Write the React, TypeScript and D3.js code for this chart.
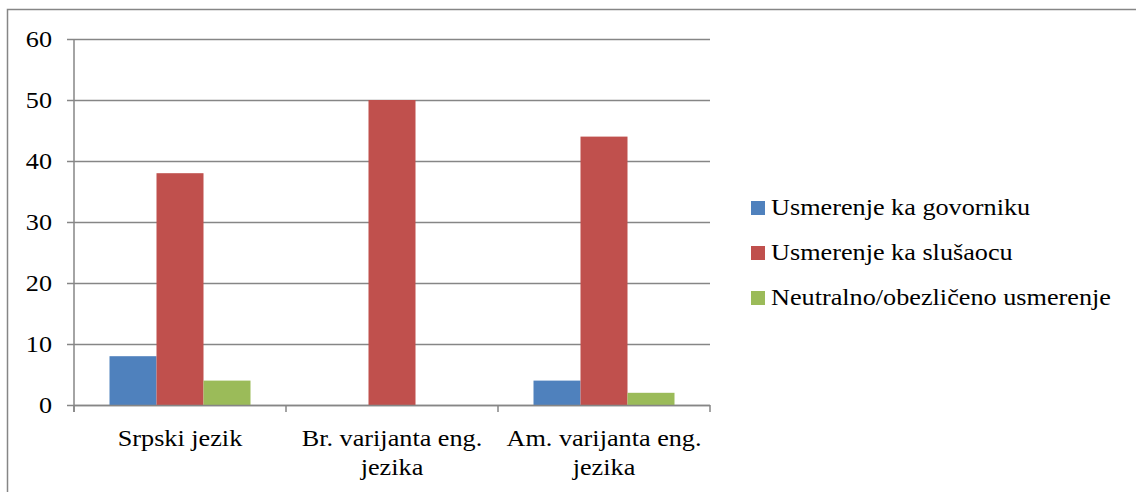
import React from "react";
import * as d3 from "d3";

const categories = [["Srpski jezik"], ["Br. varijanta eng.", "jezika"], ["Am. varijanta eng.", "jezika"]];
const seriesNames = ["Usmerenje ka govorniku", "Usmerenje ka slušaocu", "Neutralno/obezličeno usmerenje"];
const govorniku = [8, 0, 4];
const slusaocu = [38, 50, 44];
const neutralno = [4, 0, 2];
const yTicks = [0, 10, 20, 30, 40, 50, 60];
const colors = ["#4F81BD", "#C0504D", "#9BBB59"];

const SX = 1.14;

function T({ x, y, anchor = "start", children }: { x: number; y: number; anchor?: string; children: React.ReactNode }) {
  return (
    <text className="lbl" transform={`translate(${x},${y}) scale(${SX},1)`} textAnchor={anchor}>
      {children}
    </text>
  );
}

export default function App() {
  const W = 1136, H = 492;
  const left = 74, right = 710, top = 39, bottom = 405;
  const series = [govorniku, slusaocu, neutralno];
  const x = d3.scaleBand<number>().domain([0, 1, 2]).range([left, right]).paddingInner(0).paddingOuter(0);
  const y = d3.scaleLinear().domain([0, 60]).range([bottom, top]);
  const bw = x.bandwidth();
  const barW = 47;
  const groupOff = (bw - barW * 3) / 2;
  const grid = "#868686";
  return (
    <svg width={W} height={H} style={{ position: "absolute", left: 0, top: 0 }}>
      <style>{`.lbl { font-family: "Liberation Serif", "Times New Roman", serif; font-size: 23px; fill: #000; }`}</style>
      <rect x={0} y={0} width={W} height={H} fill="#fff" />
      <rect x={7.5} y={9.5} width={W + 20} height={H + 20} fill="none" stroke="#868686" strokeWidth={1.5} />
      {yTicks.map((t) => (
        <g key={t}>
          <line x1={67} x2={right} y1={Math.round(y(t)) + 0.5} y2={Math.round(y(t)) + 0.5} stroke={grid} strokeWidth={1.5} />
          <T x={52} y={y(t) + 8} anchor="end">{t}</T>
        </g>
      ))}
      {series.map((vals, si) =>
        vals.map((v, ci) =>
          v > 0 ? (
            <rect key={si + "-" + ci} x={(x(ci) as number) + groupOff + si * barW} y={y(v)} width={barW} height={y(0) - y(v)} fill={colors[si]} />
          ) : null
        )
      )}
      <line x1={left} x2={left} y1={top} y2={bottom + 7} stroke={grid} strokeWidth={1.5} />
      <line x1={left} x2={right} y1={bottom + 0.5} y2={bottom + 0.5} stroke={grid} strokeWidth={1.5} />
      {[0, 1, 2, 3].map((i) => {
        const xx = i < 3 ? (x(i) as number) : right;
        return <line key={i} x1={xx} x2={xx} y1={bottom} y2={bottom + 7} stroke={grid} strokeWidth={1.5} />;
      })}
      {categories.map((lines, ci) =>
        lines.map((l, li) => (
          <T key={ci + "-" + li} x={(x(ci) as number) + bw / 2} y={446 + li * 29} anchor="middle">{l}</T>
        ))
      )}
      {seriesNames.map((n, i) => (
        <g key={n}>
          <rect x={751} y={201 + i * 45} width={14} height={14} fill={colors[i]} />
          <T x={771} y={215 + i * 45}>{n}</T>
        </g>
      ))}
    </svg>
  );
}
